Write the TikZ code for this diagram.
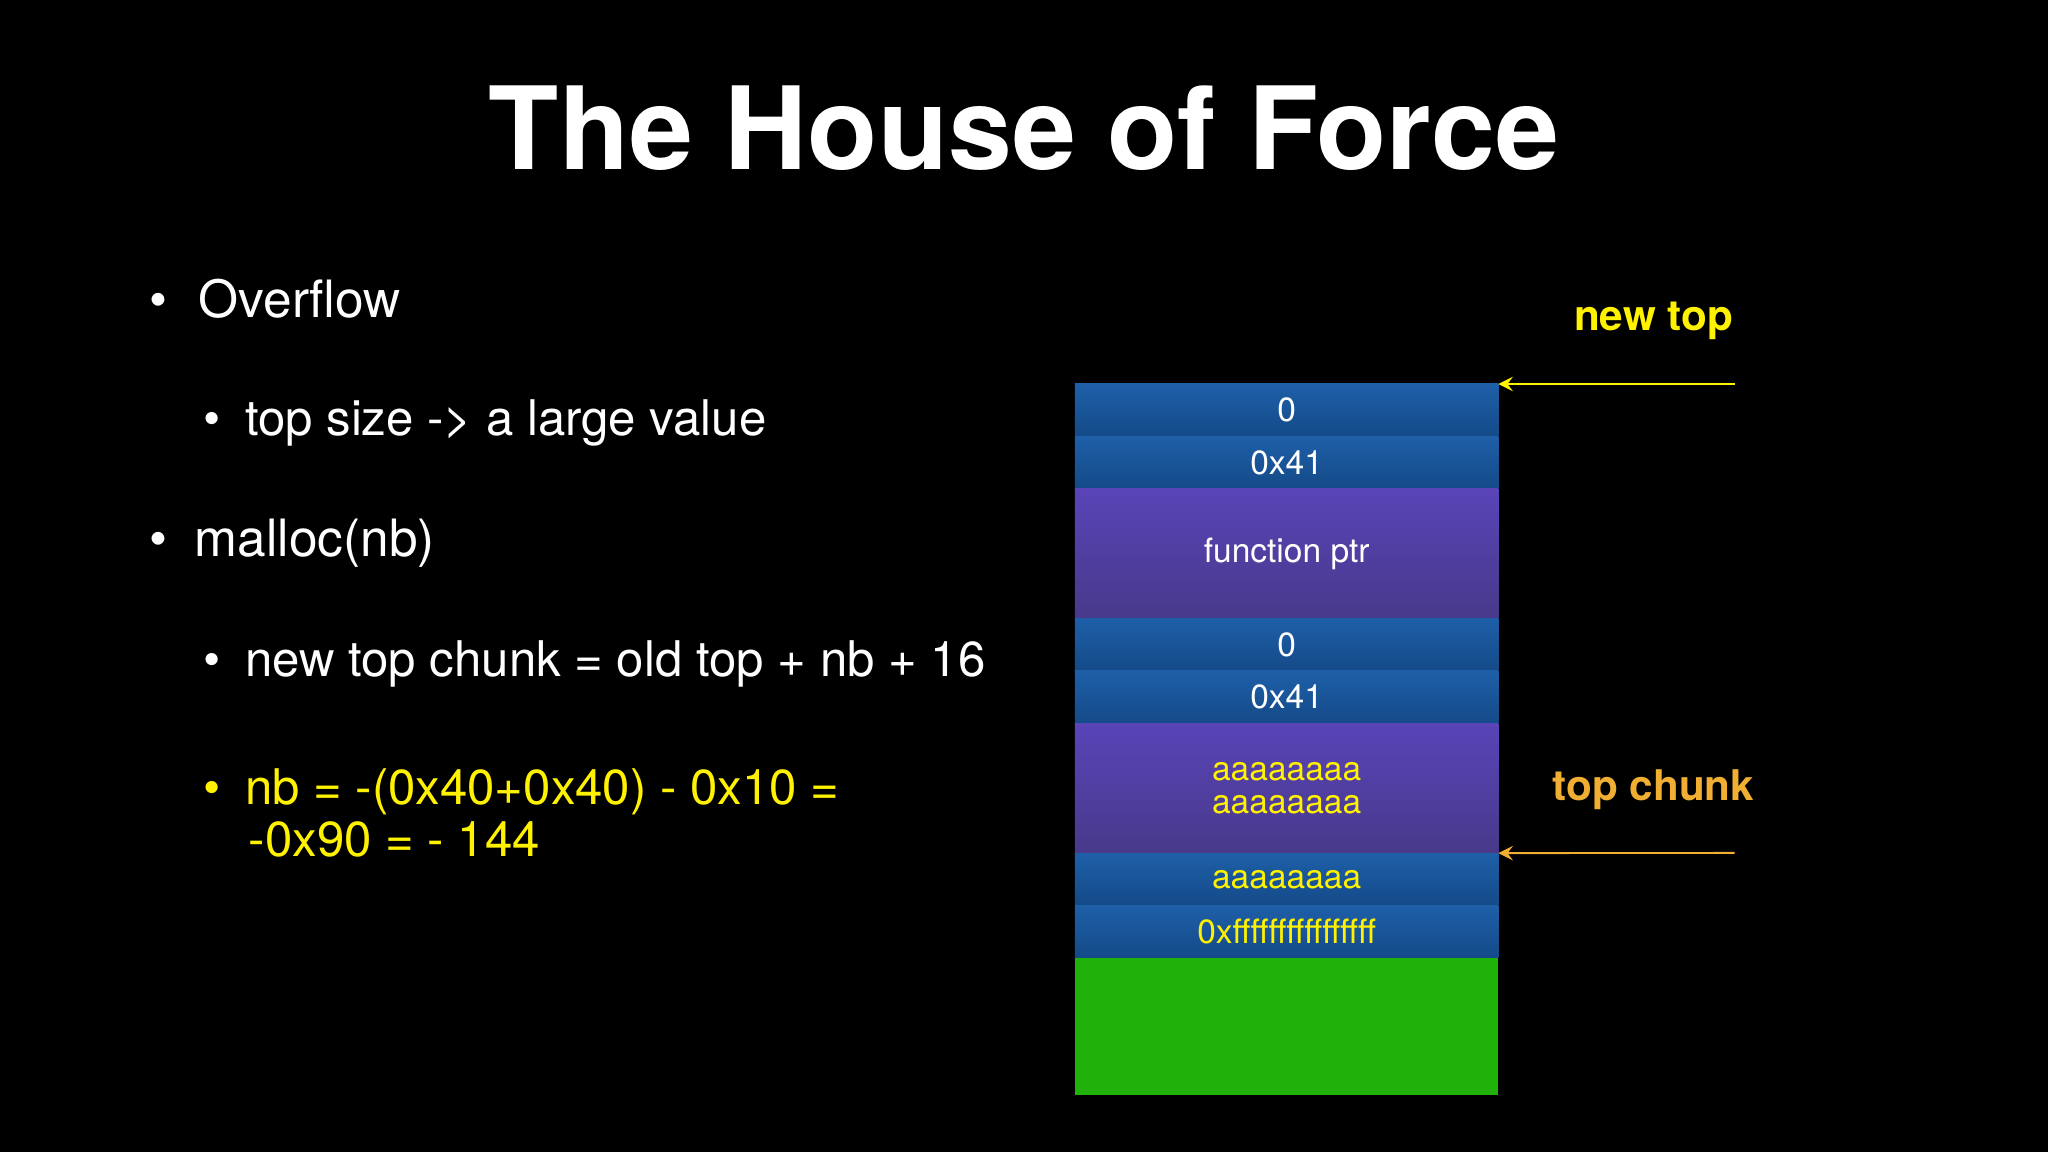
\documentclass[tikz,border=0pt]{standalone}
\usepackage{fontspec}
\setmainfont{TeX Gyre Heros}
\usetikzlibrary{positioning}
\definecolor{rowblue}{HTML}{1E5FA8}
\definecolor{rowbluedk}{HTML}{144A88}
\definecolor{rowpurple}{HTML}{5A44B8}
\definecolor{rowpurpledk}{HTML}{48398A}
\definecolor{heapgreen}{HTML}{20B20A}
\definecolor{txtyellow}{HTML}{FFF200}
\definecolor{txtorange}{HTML}{F0AE32}
\tikzset{
  cell/.style={draw=none, outer sep=0pt, minimum width=3.24cm, inner sep=0pt, font=\fontsize{7.3}{8}\selectfont, text=white},
  bluecell/.style={cell, minimum height=0.4cm, top color=rowblue, bottom color=rowbluedk},
  purplecell/.style={cell, minimum height=0.995cm, top color=rowpurple, bottom color=rowpurpledk, align=center},
  bullet1/.style={anchor=west, text=white, font=\fontsize{11.2}{13}\selectfont},
  bullet2/.style={anchor=west, text=white, font=\fontsize{10.7}{11.4}\selectfont, align=left},
}
\begin{document}
\begin{tikzpicture}[x=0.01cm, y=-0.01cm]
  \fill[black] (0,0) rectangle (1568,882);
  \node[text=white, font=\fontsize{25}{30}\selectfont\bfseries] (title) at (784,98) {The House of Force};

  % bullets
  \node[bullet1] (b1) at (102,229) {\textbullet\hspace{0.24cm}Overflow};
  \node[bullet2] (b2) at (143,324) {\textbullet\hspace{0.19cm}top size -> a large value};
  \node[bullet1] (b3) at (102,416) {\textbullet\hspace{0.21cm}malloc(nb)};
  \node[bullet2] (b4) at (143,508) {\textbullet\hspace{0.19cm}new top chunk = old top + nb + 16};
  \node[bullet2, text=txtyellow, anchor=north west] (b5) at (143,576) {\textbullet\hspace{0.19cm}nb = -(0x40+0x40) - 0x10 =\\\hspace{0.35cm}-0x90 = - 144};

  % heap
  \node[bluecell, anchor=north west] (r1) at (823,294) {0};
  \node[bluecell, below=0pt of r1] (r2) {0x41};
  \node[purplecell, below=0pt of r2] (r3) {function ptr};
  \node[bluecell, below=0pt of r3] (r4) {0};
  \node[bluecell, below=0pt of r4] (r5) {0x41};
  \node[purplecell, below=0pt of r5, text=txtyellow] (r6) {aaaaaaaa\\[-1pt]aaaaaaaa};
  \node[bluecell, below=0pt of r6, text=txtyellow] (r7) {aaaaaaaa};
  \node[bluecell, below=0pt of r7, text=txtyellow] (r8) {0xffffffffffffffff};
  \node[cell, below=0pt of r8, minimum height=1.05cm, fill=heapgreen] (r9) {};

  % pointers
  \coordinate (p1) at (1328,294);
  \coordinate (p2) at (1328,653);
  \node[text=txtyellow, font=\fontsize{9.2}{11}\selectfont\bfseries] (newtop) at (1266,246) {new top};
  \node[text=txtorange, font=\fontsize{9.2}{11}\selectfont\bfseries] (topchunk) at (1266,605) {top chunk};
  \draw[->, txtyellow, line width=0.4pt, >=stealth] (p1) -- (r1.north east);
  \draw[->, txtorange, line width=0.4pt, >=stealth] (p2) -- (r7.north east);
\end{tikzpicture}
\end{document}
